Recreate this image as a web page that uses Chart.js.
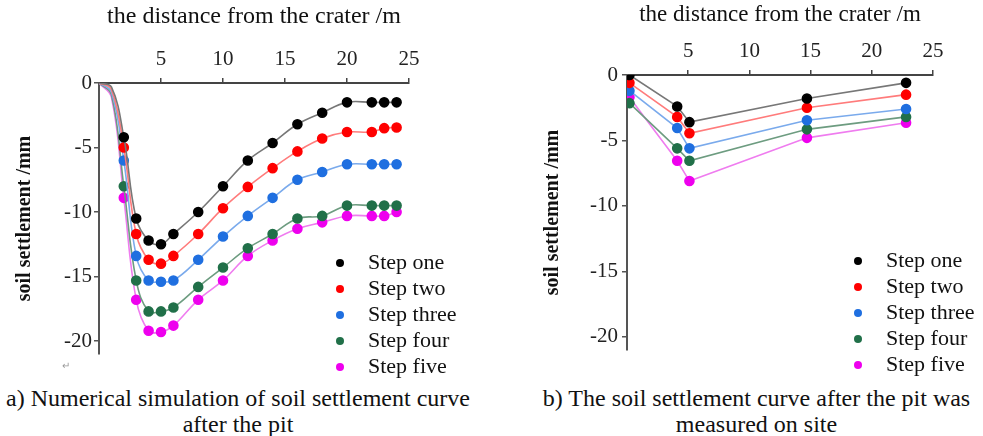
<!DOCTYPE html>
<html>
<head>
<meta charset="utf-8">
<script src="https://cdn.jsdelivr.net/npm/chart.js@4.4.1/dist/chart.umd.min.js"></script>
<style>
html,body{margin:0;padding:0;background:#fff;width:983px;height:436px;overflow:hidden;font-family:"Liberation Serif","Times New Roman",serif;}
.wrap{position:absolute;top:0;}
#wa{left:0;width:490px;height:380px;}
#wb{left:500px;width:483px;height:380px;}
.legend{position:absolute;font-size:22px;color:#111;}
.legend .row{position:relative;white-space:nowrap;height:26px;line-height:26px;}
.legend .dot{position:absolute;width:8px;height:8px;border-radius:50%;left:-32px;top:10px;}
.cap{position:absolute;font-size:24px;line-height:26px;text-align:center;color:#111;white-space:nowrap;}
.mark{position:absolute;left:62px;top:360px;font-size:10px;color:#999;}
</style>
</head>
<body>
<div class="wrap" id="wa"><canvas id="ca" width="490" height="380"></canvas></div>
<div class="wrap" id="wb"><canvas id="cb" width="483" height="380"></canvas></div>
<div class="legend" id="la" style="left:368px;top:249px;"></div>
<div class="legend" id="lb" style="left:886px;top:247px;"></div>
<div class="cap" id="capA" style="left:0;top:385px;width:476px;"></div>
<div class="cap" id="capB" style="left:530px;top:385px;width:453px;"></div>
<div class="mark">↵</div>
<script>
// ---------- data ----------
const seriesNames = ['Step one', 'Step two', 'Step three', 'Step four', 'Step five'];

// a) numerical simulation (distance m, settlement mm)
const distA = [0, 1, 2, 3, 4, 5, 6, 8, 10, 12, 14, 16, 18, 20, 22, 23, 24];
const simStepOne   = [0, -0.3, -4.2, -10.5, -12.2, -12.5, -11.7, -10.0, -8.0, -6.0, -4.65, -3.2, -2.3, -1.5, -1.5, -1.5, -1.5];
const simStepTwo   = [0, -0.5, -5.0, -11.7, -13.7, -14.0, -13.4, -11.7, -9.7, -8.05, -6.6, -5.3, -4.3, -3.8, -3.8, -3.5, -3.45];
const simStepThree = [0, -0.7, -6.0, -13.4, -15.3, -15.4, -15.3, -13.7, -11.9, -10.3, -8.9, -7.5, -6.9, -6.3, -6.3, -6.3, -6.3];
const simStepFour  = [0, -0.9, -8.0, -15.3, -17.7, -17.7, -17.4, -15.8, -14.3, -12.8, -11.7, -10.5, -10.3, -9.5, -9.5, -9.5, -9.5];
const simStepFive  = [0, -1.1, -8.9, -16.8, -19.2, -19.3, -18.8, -16.8, -15.3, -13.4, -12.2, -11.3, -10.8, -10.3, -10.3, -10.3, -10.0];

// b) measured on site
const distB = [0.2, 4.1, 5.1, 14.7, 22.8];
const siteStepOne   = [0, -2.4, -3.6, -1.8, -0.6];
const siteStepTwo   = [-0.6, -3.2, -4.45, -2.5, -1.5];
const siteStepThree = [-1.2, -4.05, -5.6, -3.45, -2.6];
const siteStepFour  = [-2.15, -5.6, -6.55, -4.15, -3.2];
const siteStepFive  = [-1.7, -6.55, -8.1, -4.8, -3.65];

const xTickValues = [5, 10, 15, 20, 25];
const yTickValues = [0, -5, -10, -15, -20];
const xTitle = 'the distance from the crater /m';
const yTitle = 'soil settlement /mm';
const captionA = ['a) Numerical simulation of soil settlement curve', 'after the pit'];
const captionB = ['b) The soil settlement curve after the pit was', 'measured on site'];

// ---------- styles ----------
const pointColors = ['#000000', '#ff0000', '#1f6fe0', '#217049', '#ee00ee'];
const lineColors  = ['#777777', '#ff7b7b', '#7aaaec', '#6d9c80', '#ef7cef'];
const FONT = '"Liberation Serif", "Times New Roman", serif';

Chart.defaults.font.family = FONT;
Chart.defaults.color = '#222';

function build(canvasId, xs, seriesList, opt) {
  const datasets = seriesList.map((vals, i) => ({
    label: seriesNames[i],
    data: vals.map((v, j) => ({x: xs[j], y: v})),
    borderColor: lineColors[i],
    backgroundColor: pointColors[i],
    pointBackgroundColor: pointColors[i],
    pointBorderColor: pointColors[i],
    borderWidth: 1.6,
    pointRadius: opt.pointRadius,
    tension: opt.tension,
    fill: false
  }));
  return new Chart(document.getElementById(canvasId), {
    type: 'line',
    data: {datasets},
    options: {
      responsive: false,
      animation: false,
      devicePixelRatio: 1,
      layout: {padding: {left: 0, top: 0, right: opt.padRight, bottom: opt.padBottom}},
      plugins: {legend: {display: false}, tooltip: {enabled: false}},
      scales: {
        x: {
          type: 'linear', position: 'top', min: 0, max: 25,
          afterBuildTicks: s => { s.ticks = xTickValues.map(v => ({value: v})); },
          afterFit: s => { s.height = opt.top; },
          border: {display: true, color: '#444', width: 2},
          grid: {drawOnChartArea: false, drawTicks: true, tickLength: 5, color: '#444', lineWidth: 1.5},
          ticks: {padding: 6, font: {size: 21}, color: '#222'},
          title: {display: true, text: xTitle, font: {size: opt.xTitleSize}, color: '#111', padding: {top: opt.xTitlePad, bottom: 0}}
        },
        y: {
          type: 'linear', position: 'left', min: -21, max: 0,
          afterBuildTicks: s => { s.ticks = yTickValues.map(v => ({value: v})); },
          afterFit: s => { s.width = opt.left; },
          border: {display: true, color: '#555', width: 2},
          grid: {drawOnChartArea: false, drawTicks: true, tickLength: 5, color: '#555', lineWidth: 1.5},
          ticks: {padding: opt.yTickPad, font: {size: 21}, color: '#222'},
          title: {display: true, text: yTitle, font: {size: 20, weight: 'bold'}, color: '#111', padding: {top: opt.yTitlePad, bottom: 0}}
        }
      }
    }
  });
}

const chartA = build('ca', distA, [simStepOne, simStepTwo, simStepThree, simStepFour, simStepFive], {
  pointRadius: ctx => (distA[ctx.dataIndex] < 1.5 ? 0 : 4.5),
  tension: 0.4, top: 83, left: 99, padRight: 81, padBottom: 26,
  xTitleSize: 24, xTitlePad: 2, yTitlePad: 13, yTickPad: 2
});
const chartB = build('cb', distB, [siteStepOne, siteStepTwo, siteStepThree, siteStepFour, siteStepFive], {
  pointRadius: 4.5,
  tension: 0, top: 75, left: 127, padRight: 50, padBottom: 30,
  xTitleSize: 23, xTitlePad: 1, yTitlePad: 41, yTickPad: 4
});

function legend(id, chart) {
  const el = document.getElementById(id);
  chart.data.datasets.forEach(ds => {
    const row = document.createElement('div');
    row.className = 'row';
    const dot = document.createElement('span');
    dot.className = 'dot';
    dot.style.background = ds.pointBackgroundColor;
    row.appendChild(dot);
    row.appendChild(document.createTextNode(ds.label));
    el.appendChild(row);
  });
}
legend('la', chartA);
legend('lb', chartB);

function caption(id, lines) {
  const el = document.getElementById(id);
  lines.forEach(t => { const d = document.createElement('div'); d.textContent = t; el.appendChild(d); });
}
caption('capA', captionA);
caption('capB', captionB);
</script>
</body>
</html>
